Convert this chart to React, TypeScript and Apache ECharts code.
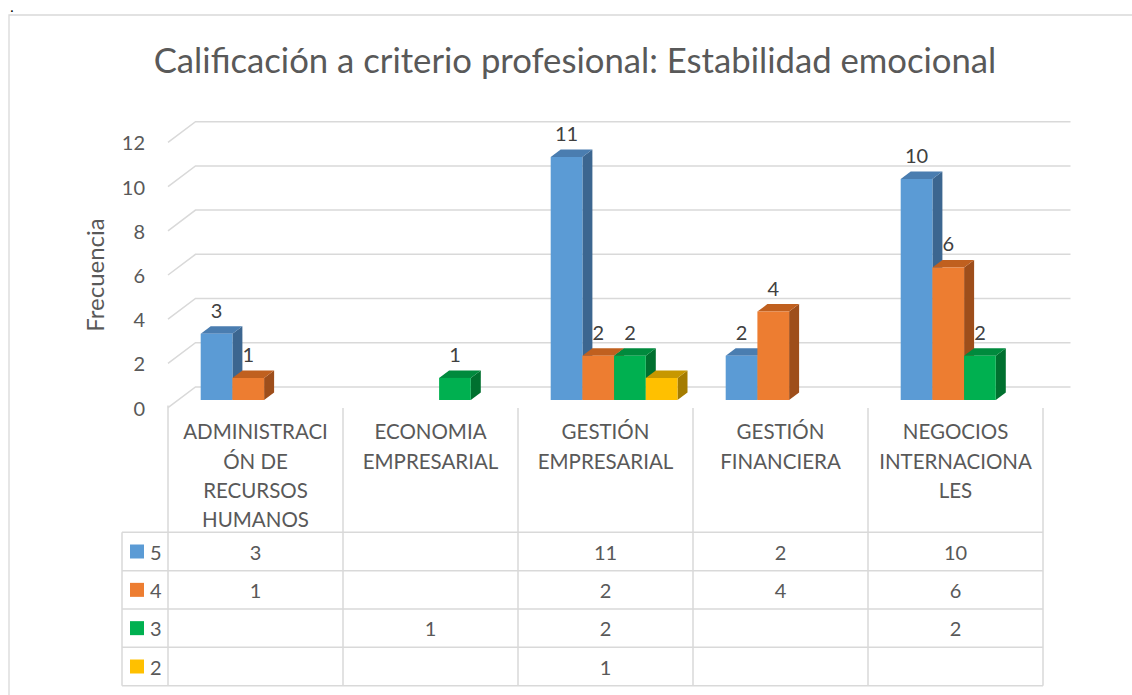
import React, { useEffect, useRef } from "react";
import * as echarts from "echarts";

const titleText = "Calificación a criterio profesional: Estabilidad emocional";
const yAxisName = "Frecuencia";
const categories = [
  "ADMINISTRACI\nÓN DE\nRECURSOS\nHUMANOS",
  "ECONOMIA\nEMPRESARIAL",
  "GESTIÓN\nEMPRESARIAL",
  "GESTIÓN\nFINANCIERA",
  "NEGOCIOS\nINTERNACIONA\nLES",
];
const seriesNames = ["5", "4", "3", "2"];
const values5: (number | null)[] = [3, null, 11, 2, 10];
const values4: (number | null)[] = [1, null, 2, 4, 6];
const values3: (number | null)[] = [null, 1, 2, null, 2];
const values2: (number | null)[] = [null, null, 1, null, null];
const yTicks = [0, 2, 4, 6, 8, 10, 12];

const allValues = [values5, values4, values3, values2];
const showLabels = [true, true, true, false];
const frontColors = ["#5B9BD5", "#ED7D31", "#00B050", "#FFC000"];
const topColors = ["#4A7DB0", "#C0601F", "#008A3D", "#C79700"];
const sideColors = ["#3C6690", "#9E4E1B", "#00702F", "#A57C00"];

const FONT = "Lato, 'Open Sans', sans-serif";
const W = 1132;
const H = 695;
const GL = 168;
const GR = 1043;
const GT = 142.4;
const GB = 407.6;
const DX = 27.5;
const DY = -20.7;
const ROWS = [532.3, 570.7, 609, 647.3, 685.7];

export default function App() {
  const ref = useRef<HTMLDivElement>(null);
  useEffect(() => {
    if (!ref.current) return;
    const chart = echarts.init(ref.current, undefined, { renderer: "svg" });
    const colW = (GR - GL) / categories.length;

    const gridSeries: any = {
      type: "custom",
      name: "grid",
      coordinateSystem: "cartesian2d",
      silent: true,
      z: 1,
      data: yTicks.map((v) => [0, v]),
      encode: { x: 0, y: 1 },
      renderItem: (params: any, api: any) => {
        const p = api.coord([0, api.value(1)]);
        const w = api.size([1, 0])[0];
        const left = p[0] - w / 2;
        const right = left + w * categories.length;
        return {
          type: "polyline",
          shape: {
            points: [
              [left, p[1]],
              [left + DX, p[1] + DY],
              [right + DX, p[1] + DY],
            ],
          },
          style: { stroke: "#D9D9D9", lineWidth: 1.5, fill: null },
        };
      },
    };

    const barSeries: any[] = allValues.map((vals, si) => ({
      type: "custom",
      name: seriesNames[si],
      coordinateSystem: "cartesian2d",
      z: 2 + si,
      data: vals
        .map((v, i) => (v == null ? null : [i, v]))
        .filter((d) => d != null),
      encode: { x: 0, y: 1 },
      renderItem: (params: any, api: any) => {
        const c = api.value(0);
        const v = api.value(1);
        const base = api.coord([c, 0]);
        const top = api.coord([c, v]);
        const w = api.size([1, 0])[0];
        const colLeft = base[0] - w / 2;
        const bw = (w * 31.7) / 175;
        const x0 = colLeft + (w * 32.7) / 175 + si * bw;
        const yb = base[1] - 7.6;
        const yt = top[1] - 7.6;
        const dx = 10;
        const dy = -7.5;
        const children: any[] = [
          {
            type: "polygon",
            shape: {
              points: [
                [x0 + bw, yt],
                [x0 + bw + dx, yt + dy],
                [x0 + bw + dx, yb + dy],
                [x0 + bw, yb],
              ],
            },
            style: { fill: sideColors[si] },
          },
          {
            type: "polygon",
            shape: {
              points: [
                [x0, yt],
                [x0 + bw, yt],
                [x0 + bw + dx, yt + dy],
                [x0 + dx, yt + dy],
              ],
            },
            style: { fill: topColors[si] },
          },
          {
            type: "rect",
            shape: { x: x0, y: yt, width: bw, height: yb - yt },
            style: { fill: frontColors[si] },
          },
        ];
        if (showLabels[si]) {
          children.push({
            type: "text",
            x: x0 + bw / 2,
            y: yt - 24,
            style: {
              text: String(v),
              fill: "#404040",
              fontSize: 20,
              fontFamily: FONT,
              align: "center",
              verticalAlign: "middle",
              textAlign: "center",
              textVerticalAlign: "middle",
            },
          });
        }
        return { type: "group", children };
      },
    }));

    const lineStyle = { stroke: "#D9D9D9", lineWidth: 1.5 };
    const graphics: any[] = [];
    graphics.push({
      type: "rect",
      shape: { x: 9, y: 15, width: 1150, height: 720 },
      style: { fill: null, stroke: "#D9D9D9", lineWidth: 1.3 },
      silent: true,
      z: -10,
    });
    graphics.push({
      type: "text",
      x: 10.5,
      y: 1,
      style: {
        text: ".",
        fill: "#000000",
        fontSize: 12,
        fontWeight: "bold",
        fontFamily: FONT,
        textAlign: "left",
        textVerticalAlign: "top",
        align: "left",
        verticalAlign: "top",
      },
    });
    graphics.push({
      type: "text",
      x: 575,
      y: 59,
      style: {
        text: titleText,
        fill: "#595959",
        fontSize: 34.7,
        fontFamily: FONT,
        textAlign: "center",
        textVerticalAlign: "middle",
        align: "center",
        verticalAlign: "middle",
      },
    });
    // table lines
    ROWS.forEach((y) => {
      graphics.push({ type: "line", shape: { x1: 122, y1: y, x2: GR, y2: y }, style: lineStyle, silent: true });
    });
    graphics.push({ type: "line", shape: { x1: 122, y1: ROWS[0], x2: 122, y2: ROWS[4] }, style: lineStyle, silent: true });
    for (let i = 0; i <= categories.length; i++) {
      const x = GL + i * colW;
      graphics.push({
        type: "line",
        shape: { x1: x, y1: i === 0 ? GB - 2 : GB + 0.5, x2: x, y2: ROWS[4] },
        style: lineStyle,
        silent: true,
      });
    }
    // legend keys + values
    allValues.forEach((vals, si) => {
      const cy = (ROWS[si] + ROWS[si + 1]) / 2;
      graphics.push({
        type: "rect",
        shape: { x: 130, y: cy - 7, width: 14, height: 14 },
        style: { fill: frontColors[si] },
      });
      graphics.push({
        type: "text",
        x: 150,
        y: cy,
        style: {
          text: seriesNames[si],
          fill: "#595959",
          fontSize: 20,
          fontFamily: FONT,
          textAlign: "left",
          textVerticalAlign: "middle",
          align: "left",
          verticalAlign: "middle",
        },
      });
      vals.forEach((v, ci) => {
        if (v == null) return;
        graphics.push({
          type: "text",
          x: GL + colW * (ci + 0.5),
          y: cy,
          style: {
            text: String(v),
            fill: "#595959",
            fontSize: 20,
            fontFamily: FONT,
            textAlign: "center",
            textVerticalAlign: "middle",
            align: "center",
            verticalAlign: "middle",
          },
        });
      });
    });

    chart.setOption({
      animation: false,
      backgroundColor: "#ffffff",
      textStyle: { fontFamily: FONT },
      grid: {
        left: GL,
        right: W - GR,
        top: GT,
        bottom: H - GB,
        containLabel: false,
        outerBoundsMode: "none",
      },
      xAxis: {
        type: "category",
        data: categories,
        axisLine: { show: false },
        axisTick: { show: false },
        splitLine: { show: false },
        axisLabel: {
          interval: 0,
          color: "#595959",
          fontSize: 20.5,
          lineHeight: 29.3,
          margin: 9,
          fontFamily: FONT,
        },
      },
      yAxis: {
        type: "value",
        min: 0,
        max: 12,
        interval: 2,
        name: yAxisName,
        nameLocation: "middle",
        nameRotate: 90,
        nameGap: 62,
        nameTextStyle: { color: "#595959", fontSize: 24, fontFamily: FONT },
        axisLine: { show: false },
        axisTick: { show: false },
        splitLine: { show: false },
        axisLabel: { color: "#595959", fontSize: 20, margin: 23, fontFamily: FONT },
      },
      series: [gridSeries, ...barSeries],
      graphic: graphics,
    });
    return () => chart.dispose();
  }, []);
  return (
    <div
      ref={ref}
      style={{ position: "absolute", left: 0, top: 0, width: W, height: H, background: "#fff" }}
    />
  );
}
